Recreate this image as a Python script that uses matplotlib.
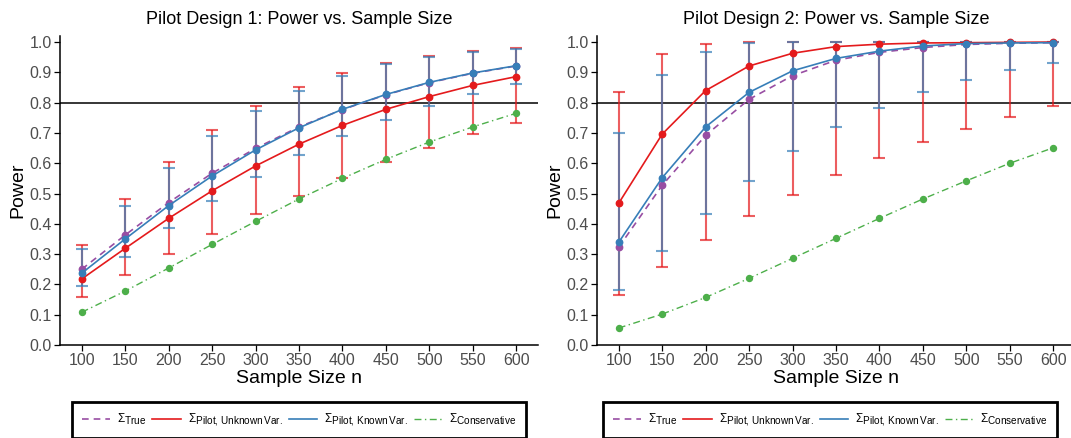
import matplotlib
matplotlib.use("Agg")
import matplotlib.pyplot as plt
import matplotlib._mathtext as _mt
from matplotlib.lines import Line2D

# ggplot-like subscripts: less shrinking than matplotlib's default
_mt.SHRINK_FACTOR = 0.85

plt.rcParams['font.family'] = ['Liberation Sans', 'DejaVu Sans']
plt.rcParams['mathtext.fontset'] = 'custom'
plt.rcParams['mathtext.rm'] = 'Liberation Sans'
plt.rcParams['mathtext.it'] = 'Liberation Sans:italic'
plt.rcParams['mathtext.bf'] = 'Liberation Sans:bold'

# ---------------- data ----------------
n = [100, 150, 200, 250, 300, 350, 400, 450, 500, 550, 600]
x_ticks = [100, 150, 200, 250, 300, 350, 400, 450, 500, 550, 600]
y_ticks = [0.0, 0.1, 0.2, 0.3, 0.4, 0.5, 0.6, 0.7, 0.8, 0.9, 1.0]
titles = ["Pilot Design 1: Power vs. Sample Size", "Pilot Design 2: Power vs. Sample Size"]
labels = [r"$\Sigma_{\mathrm{True}}$",
          r"$\Sigma_{\mathrm{Pilot,\/Unknown\/Var.}}$",
          r"$\Sigma_{\mathrm{Pilot,\/Known\/Var.}}$",
          r"$\Sigma_{\mathrm{Conservative}}$"]
target_power = 0.8

# Design 1
true1 = [0.25, 0.363, 0.47, 0.567, 0.649, 0.72, 0.777, 0.826, 0.866, 0.897, 0.921]
known1 = [0.237, 0.35, 0.46, 0.558, 0.644, 0.717, 0.778, 0.827, 0.867, 0.898, 0.922]
known1_lo = [0.195, 0.291, 0.387, 0.475, 0.553, 0.626, 0.69, 0.744, 0.789, 0.828, 0.861]
known1_hi = [0.316, 0.46, 0.585, 0.69, 0.773, 0.839, 0.888, 0.927, 0.951, 0.967, 0.978]
unk1 = [0.218, 0.319, 0.418, 0.509, 0.591, 0.663, 0.725, 0.778, 0.82, 0.857, 0.886]
unk1_lo = [0.16, 0.23, 0.299, 0.366, 0.432, 0.492, 0.55, 0.603, 0.651, 0.695, 0.734]
unk1_hi = [0.33, 0.481, 0.605, 0.71, 0.79, 0.852, 0.899, 0.93, 0.954, 0.969, 0.98]
cons1 = [0.108, 0.178, 0.254, 0.332, 0.408, 0.482, 0.55, 0.613, 0.67, 0.72, 0.765]

# Design 2
true2 = [0.323, 0.527, 0.692, 0.811, 0.889, 0.94, 0.966, 0.982, 0.992, 0.996, 0.998]
known2 = [0.339, 0.552, 0.72, 0.834, 0.905, 0.946, 0.97, 0.987, 0.995, 0.997, 0.998]
known2_lo = [0.18, 0.311, 0.431, 0.541, 0.639, 0.72, 0.783, 0.834, 0.876, 0.907, 0.932]
known2_hi = [0.70, 0.89, 0.968, 0.996, 1.0, 1.0, 1.0, 1.0, 1.0, 1.0, 1.0]
unk2 = [0.468, 0.696, 0.84, 0.921, 0.963, 0.985, 0.993, 0.997, 0.998, 0.999, 1.0]
unk2_lo = [0.164, 0.258, 0.347, 0.425, 0.496, 0.56, 0.618, 0.669, 0.714, 0.752, 0.789]
unk2_hi = [0.835, 0.961, 0.992, 1.0, 1.0, 1.0, 1.0, 1.0, 1.0, 1.0, 1.0]
cons2 = [0.056, 0.102, 0.157, 0.22, 0.286, 0.352, 0.418, 0.482, 0.542, 0.6, 0.651]

C_PURPLE = '#984ea3'
C_RED = '#e41a1c'
C_BLUE = '#377eb8'
C_GREEN = '#4daf4a'

fig = plt.figure(figsize=(10.71, 4.38), dpi=100)
W, H = 1071.0, 438.0
ax1 = fig.add_axes([60 / W, (H - 345) / H, 478 / W, 309 / H])
ax2 = fig.add_axes([597 / W, (H - 345) / H, 478 / W, 309 / H])

designs = [
    (ax1, true1, known1, known1_lo, known1_hi, unk1, unk1_lo, unk1_hi, cons1),
    (ax2, true2, known2, known2_lo, known2_hi, unk2, unk2_lo, unk2_hi, cons2),
]

for i, (ax, tr, kn, knlo, knhi, un, unlo, unhi, co) in enumerate(designs):
    ax.axhline(target_power, color='black', lw=1.1, zorder=1)
    # error bars
    ax.errorbar(n, un, yerr=[[u - l for u, l in zip(un, unlo)], [h - u for u, h in zip(un, unhi)]],
                fmt='none', ecolor=C_RED, elinewidth=1.5, capsize=4.4, capthick=1.5, alpha=0.7, zorder=2)
    ax.errorbar(n, kn, yerr=[[u - l for u, l in zip(kn, knlo)], [h - u for u, h in zip(kn, knhi)]],
                fmt='none', ecolor=C_BLUE, elinewidth=1.5, capsize=4.4, capthick=1.5, alpha=0.7, zorder=2)
    # lines
    ax.plot(n, tr, color=C_PURPLE, ls=(0, (4, 3)), lw=1.2, marker='o', ms=4.6, zorder=3)
    ax.plot(n, un, color=C_RED, ls='-', lw=1.2, marker='o', ms=4.6, zorder=4)
    ax.plot(n, kn, color=C_BLUE, ls='-', lw=1.2, marker='o', ms=4.6, zorder=5)
    ax.plot(n, co, color=C_GREEN, ls=(0, (5, 2.5, 1, 2.5)), lw=1.0, marker='o', ms=4.3, zorder=5)

    ax.set_xlim(75, 625)
    ax.set_ylim(0, 1.02)
    ax.set_xticks(x_ticks)
    ax.set_yticks(y_ticks)
    ax.set_yticklabels([f"{v:.1f}" for v in y_ticks])
    ax.tick_params(axis='both', direction='out', length=4, width=0.9, color='black',
                   labelcolor='#4d4d4d', labelsize=11.5, pad=2)
    for s in ['top', 'right']:
        ax.spines[s].set_visible(False)
    for s in ['left', 'bottom']:
        ax.spines[s].set_linewidth(1.1)
    ax.set_xlabel("Sample Size n", fontsize=14, labelpad=1)
    ax.set_ylabel("Power", fontsize=14, labelpad=2)
    ax.set_title(titles[i], fontsize=13, pad=9)

handles = [
    Line2D([], [], color=C_PURPLE, ls=(0, (4, 3)), lw=1.2),
    Line2D([], [], color=C_RED, ls='-', lw=1.2),
    Line2D([], [], color=C_BLUE, ls='-', lw=1.2),
    Line2D([], [], color=C_GREEN, ls=(0, (5, 2.5, 1, 2.5)), lw=1.0),
]
for cx in [299 / W, 830 / W]:
    leg = fig.legend(handles, labels, loc='center', bbox_to_anchor=(cx, (H - 420) / H),
                     ncol=4, fontsize=8.5, frameon=True, fancybox=False, edgecolor='black',
                     handlelength=2.4, columnspacing=0.5, handletextpad=0.6,
                     borderpad=0.8, framealpha=1)
    leg.get_frame().set_linewidth(2.0)

fig.savefig("out.png", dpi=100)
